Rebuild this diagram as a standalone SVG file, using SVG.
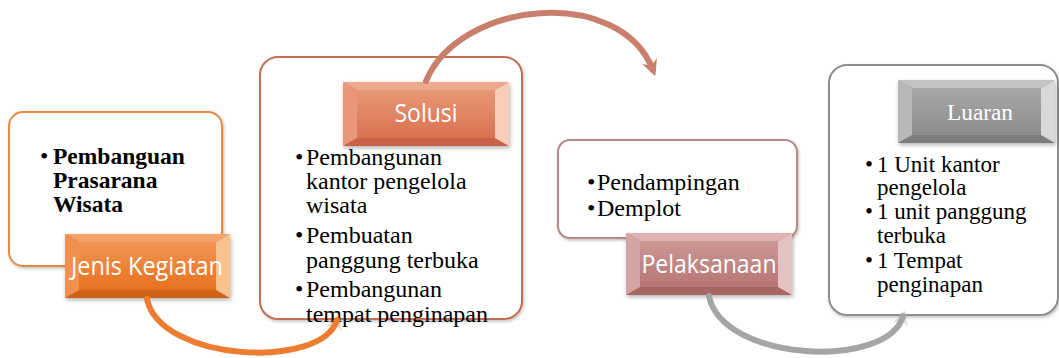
<svg xmlns="http://www.w3.org/2000/svg" width="1059" height="358" viewBox="0 0 1059 358">
<defs>
<style>
.box{fill:#ffffff;stroke-width:2}
.body{font-family:"Liberation Serif","Times New Roman",serif;font-size:24px;fill:#000}
.bold{font-weight:bold;font-size:23.5px}
.sm{font-size:23px}
.lbl{font-family:"Open Sans","Liberation Sans",sans-serif;font-size:25px;fill:#ffffff;text-anchor:middle}
.lblserif{font-family:"Liberation Serif","Times New Roman",serif;font-size:23px;fill:#ffffff;text-anchor:middle}
.arc{fill:none;stroke-width:6;stroke-linecap:round}
</style>
<filter id="sh" x="-10%" y="-10%" width="130%" height="140%">
<feDropShadow dx="1" dy="2" stdDeviation="2" flood-color="#000" flood-opacity="0.3"/>
</filter>
<filter id="shw" x="-5%" y="-5%" width="115%" height="115%">
<feDropShadow dx="1" dy="1.5" stdDeviation="1.5" flood-color="#000" flood-opacity="0.25"/>
</filter>
<linearGradient id="gw" x1="0" y1="0" x2="1" y2="0">
<stop offset="0" stop-color="#ffffff"/>
<stop offset="0.93" stop-color="#ffffff"/>
<stop offset="1" stop-color="#eeeeee"/>
</linearGradient>
<linearGradient id="g1" x1="0" y1="0" x2="0" y2="1">
<stop offset="0" stop-color="#F29555"/><stop offset="1" stop-color="#E8711F"/>
</linearGradient>
<linearGradient id="g2" x1="0" y1="0" x2="0" y2="1">
<stop offset="0" stop-color="#E79877"/><stop offset="1" stop-color="#D9724F"/>
</linearGradient>
<linearGradient id="g3" x1="0" y1="0" x2="0" y2="1">
<stop offset="0" stop-color="#CC9896"/><stop offset="1" stop-color="#B57674"/>
</linearGradient>
<linearGradient id="g4" x1="0" y1="0" x2="0" y2="1">
<stop offset="0" stop-color="#A8A8A8"/><stop offset="1" stop-color="#8C8C8C"/>
</linearGradient>
<marker id="ah" viewBox="0 0 10 10" refX="6" refY="5" markerWidth="16" markerHeight="16" markerUnits="userSpaceOnUse" orient="auto">
<path d="M0,0 L10,5 L0,10 L3,5 Z" fill="#C8806C"/>
</marker>
<marker id="aho" viewBox="0 0 10 10" refX="6" refY="5" markerWidth="16" markerHeight="16" markerUnits="userSpaceOnUse" orient="auto">
<path d="M0,0 L10,5 L0,10 L3,5 Z" fill="#ED7D31" fill-opacity="0.3"/>
</marker>
<marker id="ahg" viewBox="0 0 10 10" refX="6" refY="5" markerWidth="16" markerHeight="16" markerUnits="userSpaceOnUse" orient="auto">
<path d="M0,0 L10,5 L0,10 L3,5 Z" fill="#A5A5A5" fill-opacity="0.3"/>
</marker>
</defs>
<rect x="0" y="0" width="1059" height="358" fill="#ffffff"/>

<g id="node-jenis-kegiatan">
<rect class="box" x="9" y="112" width="213" height="154" rx="14" fill="url(#gw)" stroke="#E68A45" filter="url(#shw)"/>
<text class="body" x="40" y="164">•</text>
<text class="body bold" x="53" y="164">Pembanguan</text>
<text class="body bold" x="53" y="188">Prasarana</text>
<text class="body bold" x="53" y="212">Wisata</text>
<g filter="url(#sh)">
<rect x="65" y="234" width="165" height="64" rx="4" fill="#D96A1E"/>
<polygon points="65,234 230,234 216,242 79,242" fill="#F3A26A"/>
<polygon points="65,298 230,298 216,290 79,290" fill="#CE6218"/>
<polygon points="65,234 79,242 79,290 65,298" fill="#F19050"/>
<polygon points="230,234 216,242 216,290 230,298" fill="#F8C28F"/>
<rect x="79" y="242" width="137" height="48" fill="url(#g1)"/>
</g>
<text class="lbl" x="147" y="275" textLength="152" lengthAdjust="spacingAndGlyphs">Jenis Kegiatan</text>
</g>

<g id="node-solusi">
<rect class="box" x="260" y="57" width="262" height="262" rx="18" fill="url(#gw)" stroke="#C56E52" filter="url(#shw)"/>
<text class="body" x="295" y="165">•</text>
<text class="body" x="306" y="165">Pembangunan</text>
<text class="body" x="306" y="189">kantor pengelola</text>
<text class="body" x="306" y="213">wisata</text>
<text class="body" x="295" y="243">•</text>
<text class="body" x="306" y="243">Pembuatan</text>
<text class="body" x="306" y="268">panggung terbuka</text>
<text class="body" x="295" y="297">•</text>
<text class="body" x="306" y="297">Pembangunan</text>
<text class="body" x="306" y="322">tempat penginapan</text>
<g filter="url(#sh)">
<rect x="343" y="82" width="166" height="64" rx="4" fill="#CC6A4A"/>
<polygon points="343,82 509,82 495,90 357,90" fill="#EDA98E"/>
<polygon points="343,146 509,146 495,138 357,138" fill="#C86448"/>
<polygon points="343,82 357,90 357,138 343,146" fill="#E9967A"/>
<polygon points="509,82 495,90 495,138 509,146" fill="#F7CDB8"/>
<rect x="357" y="90" width="138" height="48" fill="url(#g2)"/>
</g>
<text class="lbl" x="426" y="122" textLength="63" lengthAdjust="spacingAndGlyphs">Solusi</text>
</g>

<g id="node-pelaksanaan">
<rect class="box" x="558" y="140" width="239" height="98" rx="12" fill="url(#gw)" stroke="#B78A88" filter="url(#shw)"/>
<text class="body" x="587" y="190">•</text>
<text class="body" x="597" y="190">Pendampingan</text>
<text class="body" x="587" y="216">•</text>
<text class="body" x="597" y="216">Demplot</text>
<g filter="url(#sh)">
<rect x="626" y="233" width="166" height="62" rx="4" fill="#A96A68"/>
<polygon points="626,233 792,233 778,241 640,241" fill="#DDB3B1"/>
<polygon points="626,295 792,295 778,287 640,287" fill="#A66664"/>
<polygon points="626,233 640,241 640,287 626,295" fill="#D3A4A2"/>
<polygon points="792,233 778,241 778,287 792,295" fill="#E3C2C1"/>
<rect x="640" y="241" width="138" height="46" fill="url(#g3)"/>
</g>
<text class="lbl" x="709" y="273" textLength="135" lengthAdjust="spacingAndGlyphs">Pelaksanaan</text>
</g>

<g id="node-luaran">
<rect class="box" x="829" y="65" width="229" height="250" rx="18" fill="url(#gw)" stroke="#8E8E8E" filter="url(#shw)"/>
<text class="body sm" x="865" y="172">•</text>
<text class="body sm" x="877" y="172">1 Unit kantor</text>
<text class="body sm" x="877" y="195">pengelola</text>
<text class="body sm" x="865" y="219">•</text>
<text class="body sm" x="877" y="219">1 unit panggung</text>
<text class="body sm" x="877" y="243">terbuka</text>
<text class="body sm" x="865" y="268">•</text>
<text class="body sm" x="877" y="268">1 Tempat</text>
<text class="body sm" x="877" y="292">penginapan</text>
<g filter="url(#sh)">
<rect x="898" y="80" width="157" height="63" rx="4" fill="#808080"/>
<polygon points="898,80 1055,80 1041,88 912,88" fill="#C4C4C4"/>
<polygon points="898,143 1055,143 1041,135 912,135" fill="#7C7C7C"/>
<polygon points="898,80 912,88 912,135 898,143" fill="#B8B8B8"/>
<polygon points="1055,80 1041,88 1041,135 1055,143" fill="#D8D8D8"/>
<rect x="912" y="88" width="129" height="47" fill="url(#g4)"/>
</g>
<text class="lblserif" x="980" y="120" textLength="66" lengthAdjust="spacingAndGlyphs">Luaran</text>
</g>

<g id="connectors">
<path class="arc" d="M147,299 C160,362 322,370 337,320" stroke="#ED7D31" marker-end="url(#aho)"/>
<path class="arc" d="M426,81 C460,0 620,-15 653,70" stroke="#C8806C" stroke-width="5" marker-end="url(#ah)"/>
<path class="arc" d="M709,296 C722,362 888,370 903,316" stroke="#A5A5A5" marker-end="url(#ahg)"/>
</g>
</svg>
